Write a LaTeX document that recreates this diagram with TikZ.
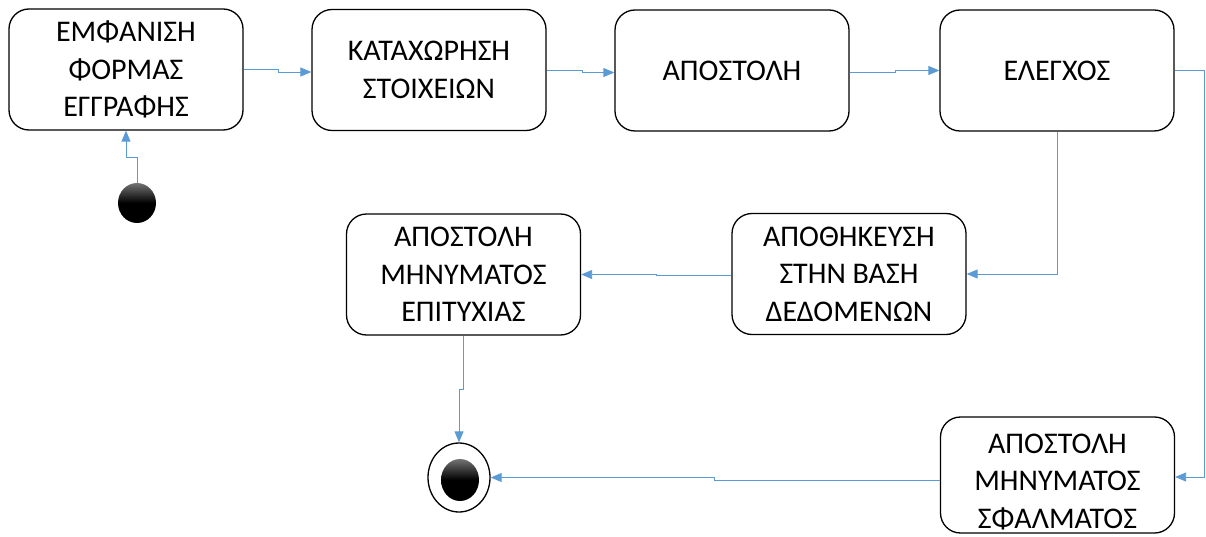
\documentclass[tikz,border=0pt]{standalone}
\usepackage{fontspec}
\setmainfont{Carlito}
\usetikzlibrary{arrows.meta,shapes.geometric}
\definecolor{flow}{RGB}{91,155,213}
\begin{document}
\begin{tikzpicture}[x=1pt,y=-1pt,
  label text/.style={align=center,inner sep=0pt,font=\fontsize{30}{37.5}\selectfont},
  state/.style={draw=black,line width=1.3pt,rounded corners=20pt,
    minimum width=234pt,minimum height=121pt,inner sep=0pt,label text},
  conn/.style={draw=flow,line width=0.9pt,-{Triangle[length=11pt,width=9pt]}},
  dot/.style={ellipse,inner sep=0pt,top color=black!55,bottom color=black,middle color=black}]
\useasboundingbox (0,0) rectangle (1206,537);

% activity states
\node[state] (b1) at (126,69.5) {ΕΜΦΑΝΙΣΗ\\ΦΟΡΜΑΣ\\ΕΓΓΡΑΦΗΣ};
\node[state] (b2) at (429,70) {ΚΑΤΑΧΩΡΗΣΗ\\ΣΤΟΙΧΕΙΩΝ};
\node[state] (b3) at (732,70.5) {ΑΠΟΣΤΟΛΗ};
\node[state] (b4) at (1057,70.5) {ΕΛΕΓΧΟΣ};
\node[state] (b5) at (849,274) {ΑΠΟΘΗΚΕΥΣΗ\\ΣΤΗΝ ΒΑΣΗ\\ΔΕΔΟΜΕΝΩΝ};
\node[state] (b6) at (463.5,274.5) {ΑΠΟΣΤΟΛΗ\\ΜΗΝΥΜΑΤΟΣ\\ΕΠΙΤΥΧΙΑΣ};
% error message box, its text sits a little low
\node[state,minimum height=116pt] (b7) at (1057.5,475) {};
\node[label text] (b7text) at ([yshift=-7pt]b7.center) {ΑΠΟΣΤΟΛΗ\\ΜΗΝΥΜΑΤΟΣ\\ΣΦΑΛΜΑΤΟΣ};

% initial and final states
\node[dot,minimum width=38pt,minimum height=40pt] (start) at (137,203) {};
\node[ellipse,draw=black,line width=1.3pt,fill=white,minimum width=62pt,minimum height=69pt] (stop) at (459,477.5) {};
\node[dot,minimum width=38pt,minimum height=42pt] (stopdot) at (460,480) {};

% transitions
\draw[conn] (start.north) -- ++(0,-25) -| (b1.south);
\draw[conn] (b1.east) -- ++(35,0) |- ([yshift=-2pt]b2.west);
\draw[conn] (b2.east) -- ++(36,0) |- ([yshift=-2pt]b3.west);
\draw[conn] ([yshift=-2pt]b3.east) -- ++(46,0) |- (b4.west);
\draw[conn] (b4.south) |- (b5.east);
\draw[conn] (b4.east) -- ++(30,0) |- ([yshift=-2pt]b7.east);
\draw[conn] ([yshift=-1pt]b5.west) -- ++(-75,0) |- (b6.east);
\draw[conn] (b6.south) -- ++(0,54) -| (stop.north);
\draw[conn] ([yshift=-5pt]b7.west) -- ++(-225,0) |- (stop.east);
\end{tikzpicture}
\end{document}
